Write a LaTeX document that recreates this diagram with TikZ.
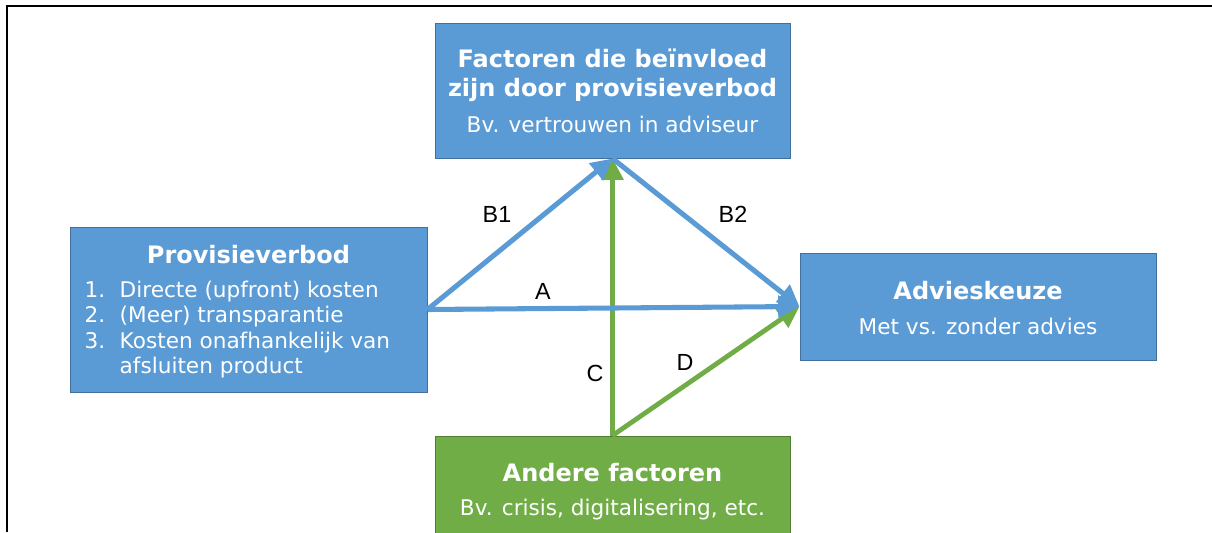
\documentclass[tikz,border=0pt]{standalone}
\usepackage{fontspec}
\setmainfont{DejaVu Sans}
\newfontfamily\lblfont{Liberation Sans}
\usetikzlibrary{arrows.meta}
\definecolor{bfill}{HTML}{5B9BD5}
\definecolor{bline}{HTML}{41719C}
\definecolor{gfill}{HTML}{70AD47}
\definecolor{gline}{HTML}{507E32}
\tikzset{
  bluebox/.style={draw=bline, fill=bfill, line width=0.75pt, inner sep=0pt},
  greenbox/.style={draw=gline, fill=gfill, line width=0.75pt, inner sep=0pt},
  ttl/.style={anchor=base, text=white, font=\fontsize{18}{21}\selectfont\bfseries},
  sub/.style={anchor=base, text=white, font=\fontsize{16.2}{19}\selectfont},
  item/.style={anchor=base west, text=white, font=\fontsize{16.2}{19}\selectfont},
  bluearrow/.style={draw=bfill, line width=3.8pt, -{Triangle[length=16pt,width=16pt]}},
  greenarrow/.style={draw=gfill, line width=3.6pt, -{Triangle[length=16pt,width=16pt]}},
  lbl/.style={font=\lblfont\fontsize{17.5}{20}\selectfont, text=black},
  frameline/.style={draw=black, line width=1.5pt}
}
\begin{document}
\begin{tikzpicture}[x=0.75pt,y=-0.75pt]
\useasboundingbox (0,0) rectangle (1212,532);
\draw[frameline] (7,532) -- (7,6) -- (1212,6);
% boxes
\node[bluebox, minimum width=355*0.75pt, minimum height=135*0.75pt] (T) at (612.5,90.5) {};
\node[bluebox, minimum width=357*0.75pt, minimum height=165*0.75pt] (L) at (248.5,309.5) {};
\node[bluebox, minimum width=356*0.75pt, minimum height=107*0.75pt] (R) at (978,306.5) {};
\node[greenbox, minimum width=355*0.75pt, minimum height=135*0.75pt] (G) at (612.5,503.5) {};
% texts top
\node[ttl] (t1) at (612.5,67) {Factoren die beïnvloed};
\node[ttl] (t2) at (612.5,96.5) {zijn door provisieverbod};
\node[sub] (t3) at (612.5,132) {Bv. vertrouwen in adviseur};
% left
\node[ttl] (l1) at (248.5,263) {Provisieverbod};
\node[item] (n1) at (80,297.5) {1.};
\node[item] (n2) at (80,322.8) {2.};
\node[item] (n3) at (80,348.1) {3.};
\node[item] (i1) at (115,297.5) {Directe (upfront) kosten};
\node[item] (i2) at (115,322.8) {(Meer) transparantie};
\node[item] (i3) at (115,348.1) {Kosten onafhankelijk van};
\node[item] (i4) at (115,373.4) {afsluiten product};
% right
\node[ttl] (r1) at (978,299) {Advieskeuze};
\node[sub] (r2) at (978,334) {Met vs. zonder advies};
% bottom
\node[ttl] (g1) at (612.5,481) {Andere factoren};
\node[sub] (g2) at (612.5,515.5) {Bv. crisis, digitalisering, etc.};
% arrows
\draw[greenarrow] (G.north) -- (T.south);
\draw[greenarrow] (G.north) -- (R.west);
\draw[bluearrow] (L.east) -- (T.south);
\draw[bluearrow] (T.south) -- (R.west);
\draw[bluearrow] (L.east) -- (R.west);
% labels
\node[lbl] (lb1) at (497,214) {B1};
\node[lbl] (lb2) at (733,214) {B2};
\node[lbl] (la) at (543,291) {A};
\node[lbl] (lc) at (595,373) {C};
\node[lbl] (ld) at (685,362) {D};
\end{tikzpicture}
\end{document}
